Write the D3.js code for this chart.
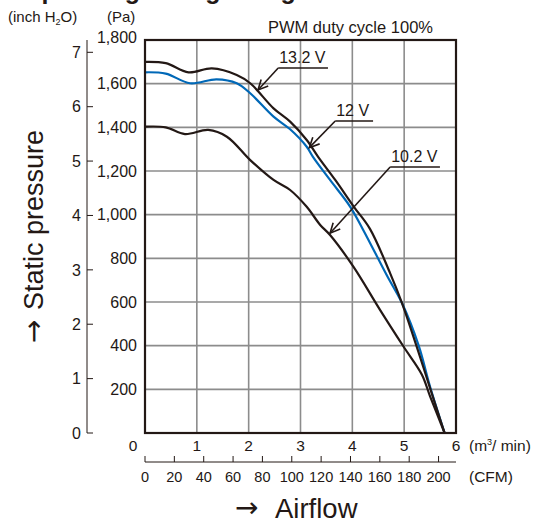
<!DOCTYPE html>
<html><head><meta charset="utf-8">
<script src="https://cdn.jsdelivr.net/npm/d3@7"></script>
<style>
html,body{margin:0;padding:0;background:#fff;}
svg{display:block;font-family:"Liberation Sans",Arial,Helvetica,sans-serif;}
</style></head>
<body><svg id="c" width="547" height="524"></svg>
<script>
// ---- data ----
const flowTicks = [0, 1, 2, 3, 4, 5, 6];                 // m3/min
const paTicks = [200, 400, 600, 800, 1000, 1200, 1400, 1600, 1800];
const inchTicks = [0, 1, 2, 3, 4, 5, 6, 7];
const cfmTicks = [0, 20, 40, 60, 80, 100, 120, 140, 160, 180, 200];

const flow132 = [0, 0.4, 0.84, 1.29, 1.77, 2.03, 2.48, 2.8, 3.12, 3.34, 3.67, 4.03, 4.34, 4.73, 4.96, 5.25, 5.5, 5.78];
const pa132   = [1700, 1694, 1652, 1670, 1640, 1602, 1487, 1426, 1342, 1265, 1159, 1036, 935, 731, 594, 390, 205, 0];

const flow12 = [0, 0.4, 0.87, 1.38, 1.77, 2.03, 2.48, 2.8, 3.12, 3.24, 3.57, 3.96, 4.21, 4.67, 4.96, 5.28, 5.5, 5.78];
const pa12   = [1652, 1646, 1602, 1620, 1602, 1556, 1449, 1391, 1311, 1265, 1159, 1036, 930, 720, 594, 400, 212, 0];

const flow102 = [0, 0.4, 0.77, 1.22, 1.58, 2.03, 2.48, 2.8, 3.12, 3.38, 3.57, 4.02, 4.54, 4.99, 5.34, 5.5, 5.78];
const pa102   = [1403, 1400, 1369, 1388, 1357, 1250, 1159, 1113, 1036, 953, 907, 762, 562, 395, 268, 168, 0];

// annotations
const labels = ["13.2 V", "12 V", "10.2 V"];
const labStart = [2.57, 3.67, 4.73];
const labEnd   = [3.53, 4.40, 5.69];
const labPa    = [1672, 1429, 1218];
const tipFlow  = [2.18, 3.17, 3.57];
const tipPa    = [1571, 1307, 915];

const PA_PER_INCH = 249.089;
const M3MIN_PER_CFM = 0.0283168;

// ---- drawing ----
const ink = "#231815", blue = "#0068b7", grid = "#8c8c8c";
const svg = d3.select("#c");
const x = d3.scaleLinear([0, 6], [145, 456]);
const y = d3.scaleLinear([0, 1800], [433, 40]);
const yIn = d3.scaleLinear([0, 1800 / PA_PER_INCH], [433, 40]);
const xCfm = d3.scaleLinear([0, 6 / M3MIN_PER_CFM], [145, 456]);

// title (cut off at top, as in the reference)
svg.append("text").attr("x", 22).attr("y", -1).attr("font-size", 25).attr("font-weight", "bold")
  .attr("fill", ink).text("Operating voltage range");

// grid
svg.append("g").selectAll("line").data(flowTicks.slice(1, -1)).join("line")
  .attr("x1", d => x(d)).attr("x2", d => x(d)).attr("y1", y(0)).attr("y2", y(1800))
  .attr("stroke", grid).attr("stroke-width", 1.6);
svg.append("g").selectAll("line").data(paTicks.slice(0, -1)).join("line")
  .attr("y1", d => y(d)).attr("y2", d => y(d)).attr("x1", x(0)).attr("x2", x(6))
  .attr("stroke", grid).attr("stroke-width", 1.6);

// curves
const line = d3.line().x(d => x(d[0])).y(d => y(d[1])).curve(d3.curveCatmullRom.alpha(0.5));
const series = [
  {fx: flow12, py: pa12, c: blue},
  {fx: flow102, py: pa102, c: ink},
  {fx: flow132, py: pa132, c: ink}
];
series.forEach(s => {
  svg.append("path").attr("d", line(s.fx.map((v, i) => [v, s.py[i]])))
    .attr("fill", "none").attr("stroke", s.c).attr("stroke-width", 2.2);
});

// frame
svg.append("rect").attr("x", x(0)).attr("y", y(1800)).attr("width", x(6) - x(0)).attr("height", y(0) - y(1800))
  .attr("fill", "none").attr("stroke", ink).attr("stroke-width", 2.2);

// Pa axis labels
svg.append("g").selectAll("text").data(paTicks).join("text")
  .attr("x", 137).attr("y", d => y(d)).attr("dy", d => d === 1800 ? "0.2em" : "0.36em")
  .attr("text-anchor", "end").attr("font-size", 16).attr("fill", ink).text(d => d3.format(",")(d));

// inch axis
const gIn = svg.append("g");
gIn.append("line").attr("x1", 87).attr("x2", 87).attr("y1", y(1800)).attr("y2", y(0))
  .attr("stroke", ink).attr("stroke-width", 1);
gIn.selectAll("line.t").data(inchTicks).join("line").attr("class", "t")
  .attr("x1", 87).attr("x2", 93).attr("y1", d => yIn(d)).attr("y2", d => yIn(d))
  .attr("stroke", ink).attr("stroke-width", 1);
gIn.selectAll("text").data(inchTicks).join("text")
  .attr("x", 81).attr("y", d => yIn(d)).attr("dy", "0.36em").attr("text-anchor", "end")
  .attr("font-size", 16).attr("fill", ink).text(d => d);

// flow axis labels (m3/min)
svg.append("g").selectAll("text").data(flowTicks).join("text")
  .attr("x", d => d === 0 ? x(0) - 12 : x(d)).attr("y", 451).attr("text-anchor", "middle")
  .attr("font-size", 15.5).attr("fill", ink).text(d => d);
const mt = svg.append("text").attr("x", 469).attr("y", 451).attr("font-size", 15.5).attr("fill", ink);
mt.append("tspan").text("(m");
mt.append("tspan").attr("font-size", 9).attr("dy", -6).text("3");
mt.append("tspan").attr("dy", 6).text("/ min)");

// CFM axis
const gC = svg.append("g");
gC.append("line").attr("x1", x(0)).attr("x2", x(6)).attr("y1", 462).attr("y2", 462).attr("stroke", ink).attr("stroke-width", 1);
gC.selectAll("line.t").data(cfmTicks).join("line").attr("class", "t")
  .attr("x1", d => xCfm(d)).attr("x2", d => xCfm(d)).attr("y1", 462).attr("y2", 456)
  .attr("stroke", ink).attr("stroke-width", 1);
gC.selectAll("text").data(cfmTicks).join("text")
  .attr("x", d => xCfm(d)).attr("y", 482).attr("text-anchor", "middle")
  .attr("font-size", 14.5).attr("fill", ink).text(d => d);
svg.append("text").attr("x", 469).attr("y", 482).attr("font-size", 15.5).attr("fill", ink).text("(CFM)");

// unit headers
const ih = svg.append("text").attr("x", 8).attr("y", 22).attr("font-size", 15).attr("fill", ink);
ih.append("tspan").text("(inch H");
ih.append("tspan").attr("font-size", 9).attr("dy", 3).text("2");
ih.append("tspan").attr("dy", -3).text("O)");
svg.append("text").attr("x", 107).attr("y", 22).attr("font-size", 15).attr("fill", ink).text("(Pa)");
svg.append("text").attr("x", 433).attr("y", 33).attr("text-anchor", "end").attr("font-size", 16.5)
  .attr("fill", ink).text("PWM duty cycle 100%");

// axis titles
svg.append("text").attr("transform", "translate(43,343) rotate(-90)").attr("font-size", 28)
  .attr("font-family", "DejaVu Sans").attr("fill", ink).text("→");
svg.append("text").attr("transform", "translate(43,310) rotate(-90)").attr("font-size", 27)
  .attr("fill", ink).text("Static pressure");
svg.append("text").attr("x", 235).attr("y", 517).attr("font-size", 28)
  .attr("font-family", "DejaVu Sans").attr("fill", ink).text("→");
svg.append("text").attr("x", 275).attr("y", 518).attr("font-size", 27.5).attr("fill", ink).text("Airflow");

// annotations
labels.forEach((lab, i) => {
  const g = svg.append("g").attr("stroke", ink).attr("stroke-width", 1.6).attr("fill", "none");
  const sx = x(labStart[i]), sy = y(labPa[i]), tx = x(tipFlow[i]), ty = y(tipPa[i]);
  g.append("line").attr("x1", sx).attr("x2", x(labEnd[i])).attr("y1", sy).attr("y2", sy);
  g.append("line").attr("x1", sx).attr("x2", tx).attr("y1", sy).attr("y2", ty);
  const ang = Math.atan2(sy - ty, sx - tx), L = 11, w = 0.45;
  g.append("path").attr("d", `M${tx + L * Math.cos(ang + w)},${ty + L * Math.sin(ang + w)}L${tx},${ty}L${tx + L * Math.cos(ang - w)},${ty + L * Math.sin(ang - w)}`);
  svg.append("text").attr("x", sx + 1).attr("y", sy - 5).attr("font-size", 16).attr("fill", ink).text(lab);
});
</script></body></html>
